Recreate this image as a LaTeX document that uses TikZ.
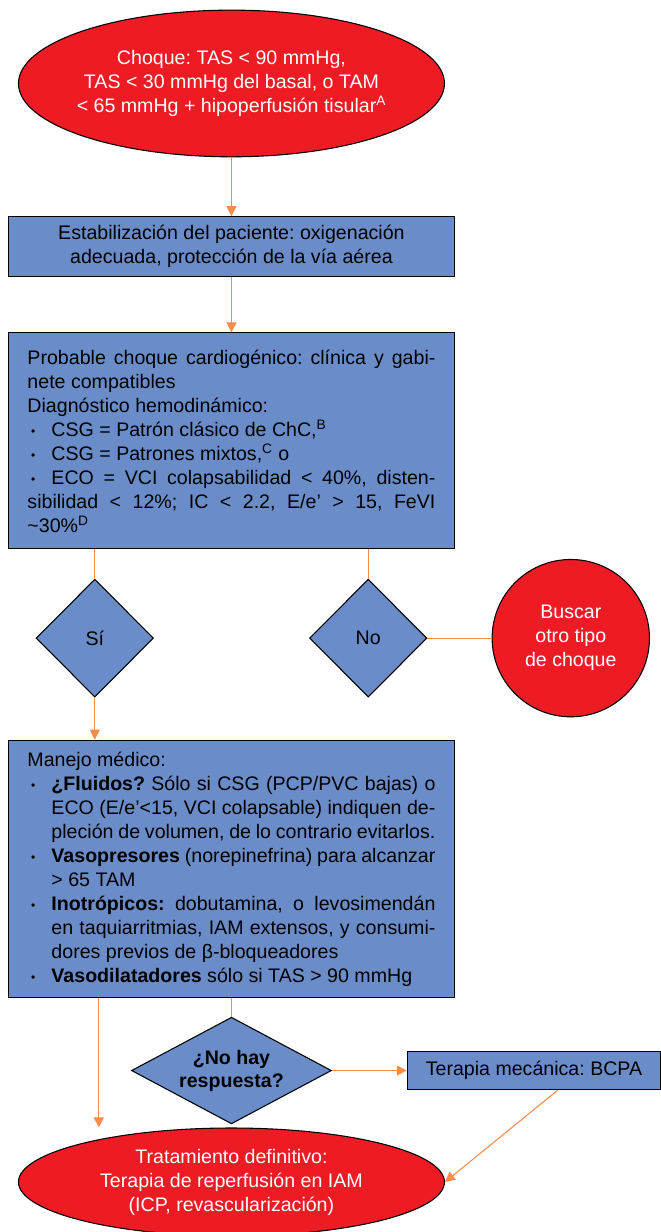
\documentclass[tikz,border=0pt]{standalone}
\usepackage{fontspec}
\setmainfont{Liberation Sans}
\usetikzlibrary{positioning,shapes.geometric,arrows.meta}
\definecolor{ovalred}{RGB}{237,28,36}
\definecolor{boxblue}{RGB}{106,140,200}
\definecolor{flowline}{RGB}{247,140,75}
\tolerance=9999
\hbadness=10000
\frenchspacing
\newcommand{\itemdot}{\hangindent=18pt\hangafter=1\noindent\makebox[18pt][l]{\hspace{2.7pt}\raisebox{0.5pt}{\fontsize{9}{9}\selectfont •}}}
\tikzset{
basenode/.style={font=\fontsize{14.7}{18}\selectfont,draw=black,line width=0.8pt},
redoval/.style={basenode,ellipse,fill=ovalred,text=white,align=center,inner xsep=-5pt,inner ysep=0pt,minimum width=319.5pt},
bluebox/.style={basenode,rectangle,fill=boxblue,minimum width=335pt},
listbox/.style={bluebox,text width=306pt,inner xsep=14.5pt,align=justify},
decision/.style={basenode,diamond,fill=boxblue,aspect=1,inner sep=0pt,minimum width=88pt,minimum height=88.5pt},
flow/.style={color=flowline,line width=0.8pt}
}
\begin{document}
\begin{tikzpicture}[node distance=120pt,on grid,>={Triangle[width=7.5pt,length=7.5pt]}]
\useasboundingbox (-173.6pt,62.6pt) rectangle (322.1pt,-861.4pt);
\node[redoval,minimum height=110pt] (choque) {Choque: TAS < 90 mmHg,\\TAS < 30 mmHg del basal, o TAM\\< 65 mmHg + hipoperfusión tisular\textsuperscript{A}};
\node[bluebox,minimum height=45pt,align=center] (estab) [below=122.4pt of choque] {Estabilización del paciente: oxigenación\\adecuada, protección de la vía aérea};
\node[listbox,minimum height=162pt] (probable) [below=145.7pt of estab] {Probable choque cardiogénico: clínica y gabi-\linebreak nete compatibles\par
Diagnóstico hemodinámico:\par
\itemdot CSG = Patrón clásico de ChC,\textsuperscript{B}\par
\itemdot CSG = Patrones mixtos,\textsuperscript{C} o\par
\itemdot ECO = VCI colapsabilidad < 40\%, disten-\linebreak sibilidad < 12\%; IC < 2.2, E/e' > 15, FeVI\linebreak \textasciitilde30\%\textsuperscript{D}};
\node[decision] (si) [below left=147.9pt and 102.5pt of probable] {Sí};
\node[decision] (no) [below right=147.9pt and 102.6pt of probable] {No};
\node[redoval,circle,minimum size=118pt,inner sep=0pt] (buscar) [right=151.9pt of no] {Buscar\\otro tipo\\de choque};
\node[listbox,minimum height=193pt] (manejo) [below=321pt of probable] {Manejo médico:\par
\itemdot\textbf{¿Fluidos?} Sólo si CSG (PCP/PVC bajas) o\linebreak ECO (E/e'<15, VCI colapsable) indiquen de-\linebreak pleción de volumen, de lo contrario evitarlos.\par
\itemdot\textbf{Vasopresores} (norepinefrina) para alcanzar\linebreak > 65 TAM\par
\itemdot\textbf{Inotrópicos:} dobutamina, o levosimendán\linebreak en taquiarritmias, IAM extensos, y consumi-\linebreak dores previos de β-bloqueadores\par
\itemdot\textbf{Vasodilatadores} sólo si TAS > 90 mmHg};
\node[decision,aspect=1.875,minimum width=150pt,minimum height=80pt,font=\fontsize{14.7}{17.25}\selectfont\bfseries,align=center] (noresp) [below=151.2pt of manejo] {¿No hay\\respuesta?};
\node[bluebox,minimum width=190pt,minimum height=29pt] (terapia) [right=226.9pt of noresp] {Terapia mecánica: BCPA};
\node[redoval,minimum height=81pt] (tratamiento) [below=83.6pt of noresp] {Tratamiento definitivo:\\Terapia de reperfusión en IAM\\(ICP, revascularización)};
\path[flow,->]
(choque) edge (estab)
(estab) edge (probable)
(si) edge (si |- manejo.north)
(noresp) edge (terapia)
([xshift=17.6pt]terapia.south) edge (tratamiento.east)
([xshift=3pt]manejo.south -| si) edge ([xshift=3pt]si |- tratamiento.north);
\path[flow]
(probable.south -| si) edge (si)
(probable.south -| no) edge (no)
(no) edge (buscar)
(manejo) edge (noresp);
\end{tikzpicture}
\end{document}
